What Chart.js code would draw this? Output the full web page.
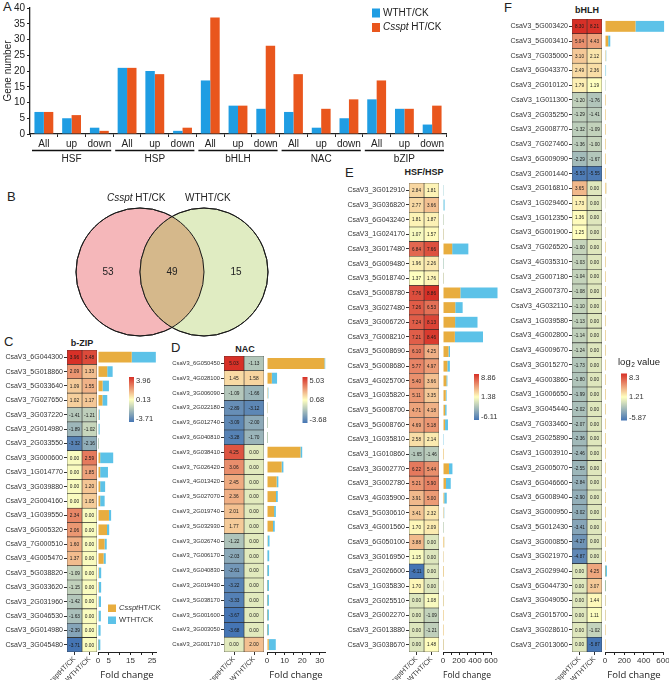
<!DOCTYPE html>
<html><head><meta charset="utf-8">
<script src="https://cdn.jsdelivr.net/npm/chart.js@4.4.0/dist/chart.umd.min.js"></script>
<style>
body{margin:0;width:669px;height:680px;overflow:hidden;background:#fff;position:relative;font-family:'Liberation Sans',Arial,sans-serif}
canvas{position:absolute}
.t{position:absolute;color:#222;white-space:nowrap;line-height:1}
.L{font-size:13px}
.H{font-size:9px;font-weight:bold;transform:translateX(-50%)}
</style></head><body>
<div class="t L" style="left:3px;top:0px">A</div>
<div class="t L" style="left:7px;top:190px">B</div>
<div class="t L" style="left:4px;top:335px">C</div>
<div class="t L" style="left:171px;top:341px">D</div>
<div class="t L" style="left:345px;top:166px">E</div>
<div class="t L" style="left:504px;top:1px">F</div>
<div class="t H" style="left:82px;top:339px">b-ZIP</div>
<div class="t H" style="left:245px;top:345px">NAC</div>
<div class="t H" style="left:424px;top:168px">HSF/HSP</div>
<div class="t H" style="left:587px;top:6px">bHLH</div>
<script>
// ---------- Panel A data ----------
const familyNames = ['HSF','HSP','bHLH','NAC','bZIP'];
const directionLabels = ['All','up','down'];
const wtCounts     = [7,5,2, 21,20,1, 17,9,8, 7,2,5, 11,8,3];
const cssptCounts  = [7,6,1, 21,19,2, 37,9,28, 19,8,11, 17,8,9];
// ---------- Panel B data ----------
const vennSetNames = ['Csspt HT/CK','WTHT/CK'];
const vennCounts = [53,49,15]; // Csspt only, shared, WT only
// ---------- heatmap column names ----------
const columnNames = ['CssptHT/CK','WTHT/CK'];
// ---------- Panel C (b-ZIP), log2 values ----------
const bzipGenes = ['CsaV3_6G044300','CsaV3_5G018860','CsaV3_5G033640','CsaV3_7G027650','CsaV3_3G037220','CsaV3_2G014980','CsaV3_2G033550','CsaV3_3G000600','CsaV3_1G014770','CsaV3_3G039880','CsaV3_2G004160','CsaV3_1G039550','CsaV3_6G005320','CsaV3_7G000510','CsaV3_4G005470','CsaV3_5G038820','CsaV3_3G033620','CsaV3_2G031960','CsaV3_3G046530','CsaV3_6G014980','CsaV3_3G045480'];
const bzipCsspt = [3.96,2.09,1.09,1.02,-1.41,-1.89,-3.32,0.00,0.00,0.00,0.00,2.34,2.06,1.60,1.37,-1.09,-1.15,-1.42,-1.63,-2.39,-3.71];
const bzipWT    = [3.48,1.33,1.55,1.17,-1.21,-1.02,-2.16,2.59,1.85,1.20,1.05,0.00,0.00,0.00,0.00,0.00,0.00,0.00,0.00,0.00,0.00];
// ---------- Panel D (NAC) ----------
const nacGenes = ['CsaV3_6G050450','CsaV3_4G028100','CsaV3_3G006090','CsaV3_2G022180','CsaV3_6G012740','CsaV3_6G040810','CsaV3_6G038410','CsaV3_7G026420','CsaV3_4G013420','CsaV3_5G027070','CsaV3_2G019740','CsaV3_5G032930','CsaV3_3G026740','CsaV3_7G006170','CsaV3_6G040830','CsaV3_2G019430','CsaV3_5G038170','CsaV3_5G001600','CsaV3_3G003050','CsaV3_2G001710'];
const nacCsspt = [5.03,1.45,-1.09,-2.89,-3.09,-3.28,4.25,3.06,2.45,2.36,2.01,1.77,-1.22,-2.03,-2.61,-3.22,-3.33,-3.67,-3.68,0.00];
const nacWT    = [-1.13,1.58,-1.66,-3.12,-2.00,-1.70,0.00,0.00,0.00,0.00,0.00,0.00,0.00,0.00,0.00,0.00,0.00,0.00,0.00,2.00];
// ---------- Panel E (HSF/HSP) ----------
const hsGenes = ['CsaV3_3G012910','CsaV3_3G036820','CsaV3_6G043240','CsaV3_1G024170','CsaV3_3G017480','CsaV3_6G009480','CsaV3_5G018740','CsaV3_5G008780','CsaV3_3G027480','CsaV3_3G006720','CsaV3_7G008210','CsaV3_5G008690','CsaV3_5G008680','CsaV3_4G025700','CsaV3_1G035820','CsaV3_5G008700','CsaV3_5G008760','CsaV3_1G035810','CsaV3_1G010860','CsaV3_3G002770','CsaV3_3G002780','CsaV3_4G035900','CsaV3_5G030610','CsaV3_4G001560','CsaV3_6G050100','CsaV3_3G016950','CsaV3_2G026600','CsaV3_1G035830','CsaV3_2G025510','CsaV3_2G002270','CsaV3_2G013880','CsaV3_3G038670'];
const hsCsspt = [2.84,2.77,1.81,1.07,6.84,1.96,1.37,7.76,7.26,7.24,7.21,6.10,5.77,5.40,5.11,4.71,4.69,2.58,-1.65,6.22,5.21,3.91,3.41,1.70,3.88,1.15,-6.11,1.70,0.00,0.00,0.00,0.00];
const hsWT    = [1.81,3.66,1.87,1.57,7.66,2.26,1.76,8.86,6.53,8.13,8.46,4.25,4.97,3.66,3.35,4.18,5.18,2.14,-1.46,5.44,5.90,5.00,2.32,2.09,0.00,0.00,0.00,0.00,1.08,-1.09,-1.21,1.48];
// ---------- Panel F (bHLH) ----------
const bhlhGenes = ['CsaV3_5G003420','CsaV3_5G003410','CsaV3_7G035000','CsaV3_6G043370','CsaV3_2G010120','CsaV3_1G011300','CsaV3_2G035250','CsaV3_2G008770','CsaV3_7G027460','CsaV3_6G009090','CsaV3_2G001440','CsaV3_2G016810','CsaV3_1G029460','CsaV3_1G012350','CsaV3_6G001900','CsaV3_7G026520','CsaV3_4G035310','CsaV3_2G007180','CsaV3_2G007370','CsaV3_4G032110','CsaV3_1G039580','CsaV3_4G002800','CsaV3_4G009670','CsaV3_3G015270','CsaV3_4G003860','CsaV3_1G006650','CsaV3_3G045440','CsaV3_7G033460','CsaV3_2G025890','CsaV3_1G003910','CsaV3_2G005070','CsaV3_6G046660','CsaV3_6G008940','CsaV3_3G000950','CsaV3_5G012430','CsaV3_3G000850','CsaV3_3G021970','CsaV3_2G029940','CsaV3_6G044730','CsaV3_3G049050','CsaV3_2G015700','CsaV3_3G028610','CsaV3_2G013060'];
const bhlhCsspt = [8.30,5.04,3.10,2.49,1.79,-1.20,-1.29,-1.32,-1.36,-2.29,-5.53,3.65,1.73,1.36,1.25,-1.00,-1.03,-1.04,-1.08,-1.10,-1.13,-1.14,-1.24,-1.73,-1.80,-1.99,-2.02,-2.07,-2.36,-2.46,-2.55,-2.84,-2.90,-3.02,-3.41,-4.27,-4.87,0.00,0.00,0.00,0.00,0.00,0.00];
const bhlhWT    = [8.21,4.43,2.12,2.36,1.19,-1.76,-1.41,-1.09,-1.00,-1.67,-5.55,0.00,0.00,0.00,0.00,0.00,0.00,0.00,0.00,0.00,0.00,0.00,0.00,0.00,0.00,0.00,0.00,0.00,0.00,0.00,0.00,0.00,0.00,0.00,0.00,0.00,0.00,4.25,3.07,1.44,1.11,-1.02,-5.87];
// fold-change tick labels
const bzipFoldTicks = [0,5,15,25];
const nacFoldTicks = [0,10,20,30];
const hsFoldTicks = [0,200,400,600];
const bhlhFoldTicks = [0,200,400,600];

const FONT = "'Liberation Sans', Arial, sans-serif";
Chart.defaults.font.family = FONT;
Chart.defaults.color = '#333';
Chart.defaults.animation = false;
Chart.defaults.events = [];
Chart.defaults.plugins.legend.display = false;
Chart.defaults.plugins.tooltip.enabled = false;

const BLUE_A = '#1f9de3', ORANGE_A = '#e9561d';
const ORANGE_B = '#e8ad3f', BLUE_B = '#5cc2e8';

function mkCanvas(left, top, w, h){
  const c = document.createElement('canvas');
  c.style.left = left+'px'; c.style.top = top+'px';
  c.style.width = w+'px'; c.style.height = h+'px';
  c.width = w; c.height = h;
  document.body.appendChild(c);
  return c;
}
function heatColor(v, min, max){
  const stops=[[69,117,180],[255,255,191],[215,48,39]];
  let t=(v-min)/(max-min); t=Math.max(0,Math.min(1,t));
  let a,b,f;
  if(t<0.5){a=stops[0];b=stops[1];f=t*2;} else {a=stops[1];b=stops[2];f=(t-0.5)*2;}
  return 'rgb('+a.map((x,k)=>Math.round(x+(b[k]-x)*f)).join(',')+')';
}

// ---------- Panel A ----------
const groupLabels = {
  id:'groupLabels',
  afterDraw(chart){
    const ctx=chart.ctx, x=chart.scales.x, bottom=chart.chartArea.bottom;
    const half=(x.getPixelForValue(1)-x.getPixelForValue(0))/2;
    ctx.save();
    ctx.strokeStyle='#111'; ctx.lineWidth=1.3; ctx.fillStyle='#222';
    ctx.font='10px '+FONT; ctx.textAlign='center'; ctx.textBaseline='middle';
    familyNames.forEach((g,gi)=>{
      const i0=gi*directionLabels.length, i1=i0+directionLabels.length-1;
      const x0=x.getPixelForValue(i0)-half+2, x1=x.getPixelForValue(i1)+half-2;
      ctx.beginPath(); ctx.moveTo(x0,bottom+16.5); ctx.lineTo(x1,bottom+16.5); ctx.stroke();
      ctx.fillText(g,(x0+x1)/2,bottom+25);
    });
    ctx.restore();
  }
};
const aLegend = {
  id:'aLegend',
  afterDraw(chart){
    const ctx=chart.ctx; ctx.save();
    ctx.textBaseline='middle';
    const items=[{c:BLUE_A,parts:[['WTHT/CK',false]]},{c:ORANGE_A,parts:[['Csspt',true],[' HT/CK',false]]}];
    items.forEach((it,k)=>{
      const y=13+k*14.5;
      ctx.fillStyle=it.c; ctx.fillRect(372,y-4.5,8,9);
      let x=383; ctx.fillStyle='#222';
      it.parts.forEach(([t,it2])=>{ctx.font=(it2?'italic ':'')+'10px '+FONT; ctx.fillText(t,x,y); x+=ctx.measureText(t).width;});
    });
    ctx.restore();
  }
};
new Chart(mkCanvas(0,0,452,172),{
  type:'bar',
  data:{labels:familyNames.flatMap(()=>directionLabels),datasets:[
    {label:'WTHT/CK',data:wtCounts,backgroundColor:BLUE_A,categoryPercentage:0.68,barPercentage:1},
    {label:'Csspt HT/CK',data:cssptCounts,backgroundColor:ORANGE_A,categoryPercentage:0.68,barPercentage:1}
  ]},
  options:{responsive:false,layout:{padding:{top:6,right:6,left:0,bottom:0}},
    scales:{
      x:{afterFit:s=>{s.height=38;},ticks:{font:{size:10},color:'#222',padding:1,autoSkip:false,maxRotation:0},
         grid:{offset:true,drawOnChartArea:false,tickLength:3,color:'#222'},border:{color:'#222',width:1.3}},
      y:{min:0,max:40,afterFit:s=>{s.width=30;},ticks:{stepSize:5,font:{size:10},color:'#222',padding:2},
         grid:{drawOnChartArea:false,tickLength:3,color:'#222'},border:{color:'#222',width:1.3},
         title:{display:true,text:'Gene number',font:{size:10},color:'#222',padding:{top:2,bottom:0}}}
    }},
  plugins:[groupLabels,aLegend]
});

// ---------- Panel B (Venn) ----------
const VX_MIN=-2.6875, VX_MAX=2.625, VY_MIN=-1.141, VY_MAX=1.438;
const VENN_W=340, VENN_H=165;
const vennUnitPx = VENN_W/(VX_MAX-VX_MIN); // one data unit (circle radius) in pixels
const VENN_OVERLAP = '#d5b88b';
const vennLens = {
  id:'vennLens',
  afterDatasetsDraw(chart){
    const ctx=chart.ctx, els=chart.getDatasetMeta(0).data;
    if(els.length<2) return;
    const a=els[0], b=els[1];
    const ra=a.options.radius, rb=b.options.radius;
    ctx.save();
    ctx.beginPath(); ctx.arc(a.x,a.y,ra,0,Math.PI*2); ctx.clip();
    ctx.beginPath(); ctx.arc(b.x,b.y,rb,0,Math.PI*2); ctx.fillStyle=VENN_OVERLAP; ctx.fill();
    ctx.restore();
    ctx.save(); ctx.strokeStyle='#1a1a1a'; ctx.lineWidth=1;
    [a,b].forEach(e=>{ctx.beginPath(); ctx.arc(e.x,e.y,e.options.radius,0,Math.PI*2); ctx.stroke();});
    ctx.restore();
  }
};
const vennText = {
  id:'vennText',
  afterDraw(chart){
    const ctx=chart.ctx, sx=chart.scales.x, sy=chart.scales.y;
    ctx.save(); ctx.fillStyle='#222'; ctx.textAlign='center'; ctx.textBaseline='middle';
    ctx.font='10px '+FONT;
    [-1,0,1].forEach((xv,i)=>ctx.fillText(String(vennCounts[i]),sx.getPixelForValue(xv),sy.getPixelForValue(0)));
    const yN=sy.getPixelForValue(1.16);
    ctx.textAlign='left';
    const p1=[['Csspt',true],[' HT/CK',false]];
    ctx.font='italic 10px '+FONT; let w1=ctx.measureText('Csspt').width; ctx.font='10px '+FONT; w1+=ctx.measureText(' HT/CK').width;
    let x=sx.getPixelForValue(-0.56)-w1/2;
    p1.forEach(([t,it])=>{ctx.font=(it?'italic ':'')+'10px '+FONT; ctx.fillText(t,x,yN); x+=ctx.measureText(t).width;});
    ctx.font='10px '+FONT; ctx.textAlign='center';
    ctx.fillText(vennSetNames[1],sx.getPixelForValue(0.56),yN);
    ctx.restore();
  }
};
new Chart(mkCanvas(0,180,VENN_W,VENN_H),{
  type:'bubble',
  data:{datasets:[{data:[{x:-0.5,y:0,r:vennUnitPx},{x:0.5,y:0,r:vennUnitPx}],backgroundColor:['#f5b7ba','#e0ecc2'],borderColor:'#1a1a1a',borderWidth:1,clip:false}]},
  options:{responsive:false,layout:{padding:0,autoPadding:false},
    scales:{x:{display:false,min:VX_MIN,max:VX_MAX},y:{display:false,min:VY_MIN,max:VY_MAX}}},
  plugins:[vennLens,vennText]
});

// ---------- heatmap + fold-change panels ----------
const cellText = {
  id:'cellText',
  afterDatasetsDraw(chart,args,opts){
    const ctx=chart.ctx; ctx.save();
    ctx.font=opts.font; ctx.fillStyle='#1a1a1a'; ctx.textAlign='center'; ctx.textBaseline='middle';
    opts.values.forEach((arr,di)=>{
      chart.getDatasetMeta(di).data.forEach((el,i)=>ctx.fillText(arr[i].toFixed(2),(el.x+el.base)/2,el.y+0.5));
    });
    ctx.restore();
  }
};
const colorbar = {
  id:'colorbar',
  afterDraw(chart,args,o){
    const ctx=chart.ctx; ctx.save();
    const x=o.x-o.ox, y=o.y-o.oy;
    const g=ctx.createLinearGradient(0,y,0,y+o.h);
    g.addColorStop(0,'rgb(215,48,39)'); g.addColorStop(0.5,'rgb(255,255,191)'); g.addColorStop(1,'rgb(69,117,180)');
    ctx.fillStyle=g; ctx.fillRect(x,y,o.w,o.h);
    ctx.fillStyle='#333'; ctx.font='7.5px '+FONT; ctx.textBaseline='middle'; ctx.textAlign='left';
    ctx.fillText(o.labels[0],x+o.w+2,y+4);
    ctx.fillText(o.labels[1],x+o.w+2,y+o.h/2);
    ctx.fillText(o.labels[2],x+o.w+2,y+o.h-3);
    if(o.title){
      ctx.font='9.5px '+FONT; ctx.fillStyle='#222';
      ctx.fillText('log',x-3,y-11);
      const w=ctx.measureText('log').width;
      ctx.font='6.5px '+FONT; ctx.fillText('2',x-3+w+0.5,y-8);
      ctx.font='9.5px '+FONT; ctx.fillText(' value',x-3+w+4,y-11);
    }
    if(o.legend){
      const items=[{c:ORANGE_B,parts:[['Csspt',true],['HT/CK',false]]},{c:BLUE_B,parts:[['WTHT/CK',false]]}];
      items.forEach((it,k)=>{
        const ly=o.legend.y-o.oy+k*12, lx=o.legend.x-o.ox;
        ctx.fillStyle=it.c; ctx.fillRect(lx,ly-3.5,8,7.5);
        let tx=lx+11; ctx.fillStyle='#333';
        it.parts.forEach(([t,itl])=>{ctx.font=(itl?'italic ':'')+'7.5px '+FONT; ctx.fillText(t,tx,ly); tx+=ctx.measureText(t).width;});
      });
    }
    ctx.restore();
  }
};

function buildPanel(P){
  const PADT=8, BOTTOM=683, AXH=BOTTOM-P.bottom;
  const all=P.cs.concat(P.wt);
  const min=Math.min(...all), max=Math.max(...all);
  const top=P.top-PADT, H=BOTTOM-top;
  const cellStyle={borderColor:'#2a2a2a',borderWidth:0.6,borderSkipped:false,barPercentage:1,categoryPercentage:1};
  // heatmap
  new Chart(mkCanvas(P.cl,top,P.hmRight-P.cl+6,H),{
    type:'bar',
    data:{labels:P.genes,datasets:[
      Object.assign({data:P.cs.map(()=>1),backgroundColor:P.cs.map(v=>heatColor(v,min,max))},cellStyle),
      Object.assign({data:P.wt.map(()=>1),backgroundColor:P.wt.map(v=>heatColor(v,min,max))},cellStyle)
    ]},
    options:{indexAxis:'y',responsive:false,layout:{padding:{top:PADT,right:6,left:0,bottom:0}},
      plugins:{cellText:{values:[P.cs,P.wt],font:P.cellFont+'px '+FONT}},
      scales:{
        x:{type:'linear',min:0,max:2,stacked:true,afterFit:s=>{s.height=AXH;},
           afterBuildTicks:s=>{s.ticks=[{value:0.5},{value:1.5}];},
           ticks:{autoSkip:false,minRotation:45,maxRotation:45,padding:0,font:{size:7},color:'#333',callback:(v,i)=>columnNames[i]},
           grid:{drawOnChartArea:false,tickLength:3,color:'#333'},border:{display:false}},
        y:{type:'category',stacked:true,afterFit:s=>{s.width=P.hmLeft-P.cl;},
           ticks:{font:{size:P.labelSize},color:'#333',padding:1,autoSkip:false},
           grid:{offset:false,drawOnChartArea:false,tickLength:3,color:'#333'},border:{display:false}}
      }},
    plugins:[cellText]
  });
  // fold-change bars
  const ox=P.zeroX-10;
  const bw=(P.rightX-ox)+P.padR;
  new Chart(mkCanvas(ox,top,bw,H),{
    type:'bar',
    data:{labels:P.genes,datasets:[
      {label:'CssptHT/CK',data:P.cs.map(v=>Math.pow(2,v)),backgroundColor:ORANGE_B,clip:false,barPercentage:0.74,categoryPercentage:1},
      {label:'WTHT/CK',data:P.wt.map(v=>Math.pow(2,v)),backgroundColor:BLUE_B,clip:false,barPercentage:0.74,categoryPercentage:1}
    ]},
    options:{indexAxis:'y',responsive:false,layout:{padding:{top:PADT,left:10,right:P.padR,bottom:0}},
      plugins:{colorbar:Object.assign({ox:ox,oy:top},P.cbar)},
      scales:{
        x:{type:'linear',min:0,max:P.max,stacked:true,afterFit:s=>{s.height=AXH;},
           ticks:{stepSize:P.step,includeBounds:false,autoSkip:false,maxRotation:0,padding:1,font:{size:8},color:'#333',
                  callback:v=>P.shown.includes(v)?String(v):''},
           grid:{drawOnChartArea:false,tickLength:3,color:'#222'},border:{color:'#222',width:1},
           title:{display:true,text:'Fold change',font:{size:9.5,family:"'Open Sans'"},color:'#222',padding:{top:0,bottom:2}}},
        y:{display:false,stacked:true}
      }},
    plugins:[colorbar]
  });
}

buildPanel({genes:bzipGenes,cs:bzipCsspt,wt:bzipWT,cl:0,hmLeft:67,hmRight:97,top:350,bottom:652,labelSize:7,cellFont:4.8,
  zeroX:98,rightX:156,max:26.8,step:5,shown:bzipFoldTicks,padR:16,
  cbar:{x:129,y:377,w:5,h:45,labels:['3.96','0.13','-3.71'],legend:{x:108,y:608}}});
buildPanel({genes:nacGenes,cs:nacCsspt,wt:nacWT,cl:150,hmLeft:224,hmRight:264,top:356,bottom:652,labelSize:5.8,cellFont:4.8,
  zeroX:266.5,rightX:325,max:33,step:5,shown:nacFoldTicks,padR:12,
  cbar:{x:302,y:377,w:5,h:46,labels:['5.03','0.68','-3.68']}});
buildPanel({genes:hsGenes,cs:hsCsspt,wt:hsWT,cl:335,hmLeft:409,hmRight:439,top:183,bottom:652,labelSize:7,cellFont:4.6,
  zeroX:443,rightX:491,max:600,step:100,shown:hsFoldTicks,padR:10,
  cbar:{x:474,y:374,w:5,h:46,labels:['8.86','1.38','-6.11']}});
buildPanel({genes:bhlhGenes,cs:bhlhCsspt,wt:bhlhWT,cl:500,hmLeft:572,hmRight:602,top:18.5,bottom:652,labelSize:7,cellFont:4.6,
  zeroX:605,rightX:663,max:600,step:100,shown:bhlhFoldTicks,padR:12,
  cbar:{x:621,y:373,w:6,h:47,labels:['8.3','1.21','-5.87'],title:true}});
</script>
</body></html>
